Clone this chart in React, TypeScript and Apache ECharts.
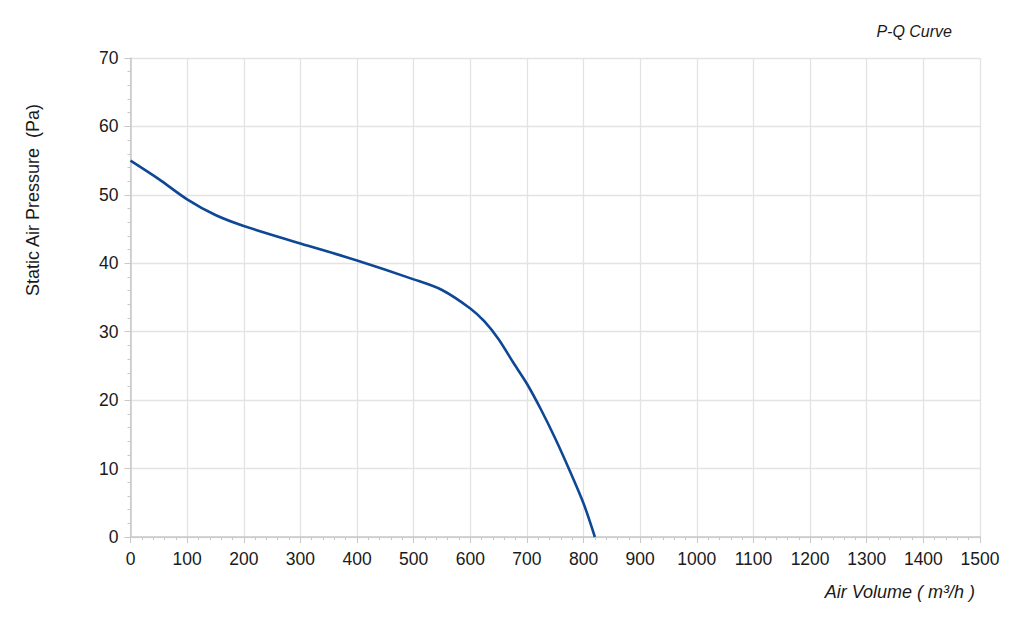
import { useRef, useEffect } from 'react'
import * as echarts from 'echarts'

// air volume (m³/h) and static pressure (Pa)
const airVolume = [0, 50, 100, 150, 200, 300, 400, 500, 550, 600, 625, 650, 675, 700, 725, 750, 775, 800, 820]
const pressure = [55, 52.3, 49.35, 47.05, 45.45, 42.9, 40.4, 37.65, 36.1, 33.4, 31.5, 28.9, 25.6, 22.4, 18.6, 14.4, 9.8, 4.9, 0]

const FONT = '"Liberation Sans", Arial, sans-serif'

export default function App() {
  const chartRef = useRef<HTMLDivElement>(null)

  useEffect(() => {
    if (!chartRef.current) return
    const chart = echarts.init(chartRef.current, null, { renderer: 'svg' })

    const option: echarts.EChartsOption = {
      animation: false,
      backgroundColor: '#fff',
      grid: { left: 130.5, right: 44, top: 58, bottom: 90, containLabel: false },
      xAxis: {
        type: 'value',
        min: 0,
        max: 1500,
        interval: 100,
        axisLine: { show: true, lineStyle: { color: '#c8c8c8', width: 1.5 } },
        axisTick: { show: true, inside: false, length: 6, lineStyle: { color: '#c8c8c8' } },
        minorTick: { show: true, splitNumber: 5, length: 3, lineStyle: { color: '#c8c8c8' } },
        axisLabel: { color: '#1a1a1a', fontSize: 17.5, fontFamily: FONT, margin: 13, formatter: (v: number) => String(v) },
        splitLine: { show: true, lineStyle: { color: '#e3e3e3', width: 1.3 } }
      },
      yAxis: {
        type: 'value',
        min: 0,
        max: 70,
        interval: 10,
        axisLine: { show: true, lineStyle: { color: '#c8c8c8', width: 1.5 } },
        axisTick: { show: true, inside: false, length: 6, lineStyle: { color: '#c8c8c8' } },
        minorTick: { show: true, splitNumber: 5, length: 3, lineStyle: { color: '#c8c8c8' } },
        axisLabel: { color: '#1a1a1a', fontSize: 17.5, fontFamily: FONT, margin: 12 },
        splitLine: { show: true, lineStyle: { color: '#e3e3e3', width: 1.3 } }
      },
      graphic: [
        {
          type: 'text',
          x: 33,
          y: 200,
          rotation: Math.PI / 2,
          style: {
            text: 'Static Air Pressure  (Pa)',
            fill: '#1a1a1a',
            font: `18px ${FONT}`,
            align: 'center',
            verticalAlign: 'middle'
          }
        },
        {
          type: 'text',
          x: 975,
          y: 592,
          style: {
            text: 'Air Volume ( m³/h )',
            fill: '#1a1a1a',
            font: `italic 18px ${FONT}`,
            align: 'right',
            verticalAlign: 'middle'
          }
        },
        {
          type: 'text',
          x: 952,
          y: 31,
          style: {
            text: 'P-Q Curve',
            fill: '#1a1a1a',
            font: `italic 16px ${FONT}`,
            align: 'right',
            verticalAlign: 'middle'
          }
        }
      ],
      series: [
        {
          type: 'line',
          data: airVolume.map((q, i) => [q, pressure[i]]),
          smooth: 0.3,
          showSymbol: false,
          lineStyle: { color: '#0e4894', width: 2.6 }
        }
      ]
    }

    chart.setOption(option)
    return () => chart.dispose()
  }, [])

  return (
    <div
      ref={chartRef}
      style={{ position: 'fixed', left: 0, top: 0, width: '1024px', height: '627px' }}
    />
  )
}
